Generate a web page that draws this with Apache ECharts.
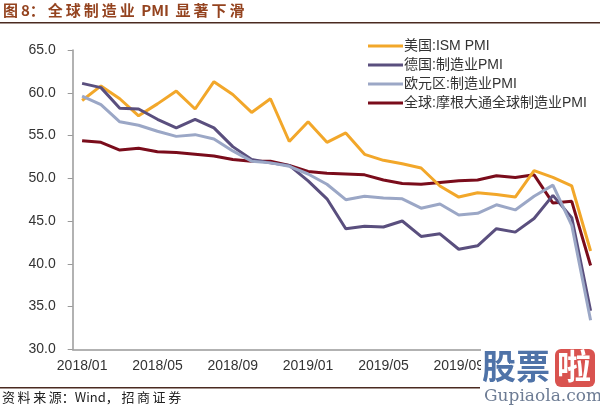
<!DOCTYPE html>
<html>
<head>
<meta charset="utf-8">
<script src="https://cdn.jsdelivr.net/npm/echarts@6/dist/echarts.min.js"></script>
<style>
html,body{margin:0;padding:0;background:#fff;}
#c{width:600px;height:407px;}
</style>
</head>
<body>
<div id="c"></div>
<script>
const months = [
  '2018/01','2018/02','2018/03','2018/04','2018/05','2018/06','2018/07','2018/08','2018/09','2018/10','2018/11','2018/12',
  '2019/01','2019/02','2019/03','2019/04','2019/05','2019/06','2019/07','2019/08','2019/09','2019/10','2019/11','2019/12',
  '2020/01','2020/02','2020/03','2020/04'
];
const usIsm = [59.1,60.8,59.3,57.3,58.7,60.2,58.1,61.3,59.8,57.7,59.3,54.3,
  56.6,54.2,55.3,52.8,52.1,51.7,51.2,49.1,47.8,48.3,48.1,47.8,
  50.9,50.1,49.1,41.5];
const germany = [61.1,60.6,58.2,58.1,56.9,55.9,56.9,55.9,53.7,52.2,51.8,51.5,
  49.7,47.6,44.1,44.4,44.3,45.0,43.2,43.5,41.7,42.1,44.1,43.7,
  45.3,48.0,45.4,34.5];
const eurozone = [59.6,58.6,56.6,56.2,55.5,54.9,55.1,54.6,53.2,52.0,51.8,51.4,
  50.5,49.3,47.5,47.9,47.7,47.6,46.5,47.0,45.7,45.9,46.9,46.3,
  47.9,49.2,44.5,33.4];
const globalPmi = [54.4,54.2,53.3,53.5,53.1,53.0,52.8,52.6,52.2,52.0,52.0,51.5,
  50.8,50.6,50.5,50.4,49.8,49.4,49.3,49.5,49.7,49.8,50.3,50.1,
  50.4,47.1,47.3,39.8];
const seriesNames = ['美国:ISM PMI','德国:制造业PMI','欧元区:制造业PMI','全球:摩根大通全球制造业PMI'];
const colors = ['#F2A72A','#5A4F7E','#9BA7C6','#7A0C1B'];
const titleText = '图\u20098：\u2009全\u2009球\u2009制\u2009造\u2009业\u2009 PMI \u2009显\u2009著\u2009下\u2009滑';
const sourceText = '资\u2009料\u2009来\u2009源：Wind，\u2009招\u2009商\u2009证\u2009券';

const chart = echarts.init(document.getElementById('c'), null, {renderer:'canvas'});
const font = '"Liberation Sans","Noto Sans CJK SC",sans-serif';
const dataSets = [usIsm, germany, eurozone, globalPmi];
chart.setOption({
  animation:false,
  backgroundColor:'#fff',
  color: colors,
  grid:{left:72.7, right:0, top:50, bottom:57.7, containLabel:false},
  legend:{
    orient:'vertical', left:363, top:34, itemWidth:35, itemHeight:3, itemGap:5,
    icon:'rect',
    textStyle:{fontSize:14, color:'#333', fontFamily:font, padding:[0,0,0,-4]},
    data: seriesNames
  },
  xAxis:{
    type:'category', data:months, boundaryGap:true,
    axisLine:{lineStyle:{color:'#999', width:1.5}},
    axisTick:{interval:3, length:4, lineStyle:{color:'#999'}},
    axisLabel:{interval:3, fontSize:14, color:'#333', fontFamily:font, margin:10}
  },
  yAxis:{
    type:'value', min:30, max:65, interval:5,
    splitLine:{show:false},
    axisLine:{show:true, lineStyle:{color:'#999', width:1.5}},
    axisTick:{show:true, length:5, inside:false, lineStyle:{color:'#999'}},
    axisLabel:{fontSize:14, color:'#333', fontFamily:font, margin:17, formatter:v=>v.toFixed(1)}
  },
  series: seriesNames.map((n,i)=>({
    name:n, type:'line', data:dataSets[i], symbol:'none', smooth:false,
    lineStyle:{width:3, color:colors[i]}, z: i===3?1:2
  })),
  graphic:[
    {type:'text', left:3, top:3, style:{text:titleText, fontSize:15, fontWeight:'bold', fill:'#94431F', fontFamily:'"Noto Sans CJK SC","Liberation Sans",sans-serif'}},
    {type:'rect', shape:{x:0,y:22,width:600,height:1.6}, style:{fill:'#4a2a20'}},
    {type:'rect', shape:{x:0,y:387,width:480,height:1.4}, style:{fill:'#4a2a20'}},
    {type:'text', left:2, top:391, style:{text:sourceText, fontSize:13, fill:'#222', fontFamily:'"Noto Sans CJK SC","Liberation Sans",sans-serif'}},
    {type:'rect', shape:{x:481,y:348,width:119,height:59}, style:{fill:'#fff'}, z:10},
    {type:'text', x:482, y:349, style:{text:'股票', fontSize:34, fontWeight:'bold', fill:'#4F73A8', fontFamily:'"Noto Sans CJK SC",sans-serif'}, z:11},
    {type:'rect', shape:{x:555,y:349,width:40,height:38, r:6}, style:{fill:'#D9534F'}, z:11},
    {type:'text', x:557, y:349, style:{text:'啦', fontSize:34, fontWeight:'bold', fill:'#fff', fontFamily:'"Noto Sans CJK SC",sans-serif'}, z:12},
    {type:'text', x:484, y:388, style:{text:'Gupiaola.com', fontSize:17, fill:'#6D7C94', fontFamily:'"DejaVu Serif",serif'}, z:11}
  ]
});
</script>
</body>
</html>
